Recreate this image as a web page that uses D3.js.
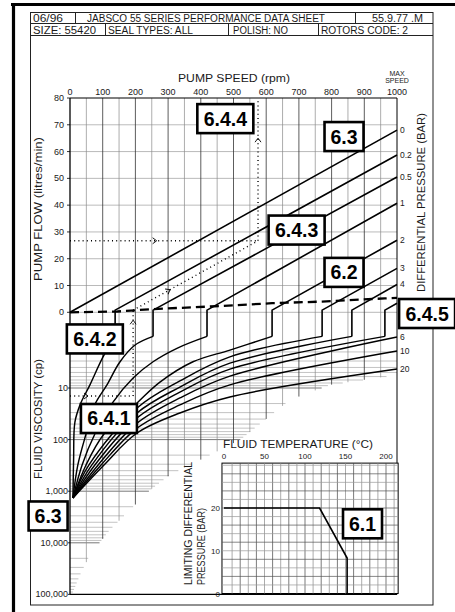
<!DOCTYPE html>
<html>
<head>
<meta charset="utf-8">
<script src="https://cdn.jsdelivr.net/npm/d3@7/dist/d3.min.js"></script>
<style>
  body { margin:0; background:#fff; }
  svg { display:block; }
  text { font-family:"Liberation Sans", Arial, sans-serif; fill:#1a1a1a; }
  .callout text { font-weight:bold; fill:#000; }
</style>
</head>
<body>
<svg id="svg" width="455" height="612"></svg>
<script>
// header cells
var headRow1 = ["06/96", "JABSCO 55 SERIES PERFORMANCE DATA SHEET", "55.9.77 .M"];
var headRow2 = ["SIZE: 55420", "SEAL TYPES: ALL", "POLISH: NO", "ROTORS CODE: 2"];

// axes
var speedTicks = [0,100,200,300,400,500,600,700,800,900,1000];
var speedGrid = [50,100,150,200,250,300,350,400,450,500,550,600,650,700,750,800,850,900,950];
var flowTicks = [0,10,20,30,40,50,60,70,80];
var viscTicks = [10,100,1000,10000,100000];
var viscLabels = ["10","100","1,000","10,000","100,000"];
var tempTicks = [0,50,100,150,200];
var limitTicks = [0,10,20];

// differential pressure lines: start speed, flow at max speed (1000 rpm)
var barLabels    = ["0","0.2","0.5","1","2","3","4",""];
var barStartRpm  = [0,138,254,419,618,771,862,963];
var barStartFlow = [0,0.8,0.8,0.8,0.8,0.8,0.8,0.8];
var barEndFlow   = [68,58.7,50.5,40.7,26.9,16.4,10.4,3.4];

// dashed slip line
var slipRpm  = [0,145,254,419,618,771,963,1000];
var slipFlow = [0,0.3,1.2,2.1,3.4,4.0,5.2,5.4];

// viscosity correction curves [rpm, cp]
var visc02 = [[138,1],[101,2.5],[61,8.7],[31,21],[15,46],[11,250],[9,1350]];
var visc05 = [[254,1],[199,1.47],[153,3.1],[113,8.7],[76,21],[49,78],[24,310],[9,1350]];
var visc1  = [[419,1],[327,1.7],[254,3.1],[193,6.4],[131,19],[76,78],[37,310],[9,1350]];
var visc2  = [[618,1],[489,1.84],[376,3.1],[275,7.7],[205,19.5],[104,78],[49,310],[9,1350]];
var visc3  = [[771,1],[489,2.5],[336,7.3],[205,24.4],[58,310],[9,1350]];
var visc4  = [[862,1],[489,3.3],[336,9.6],[205,30.5],[67,310],[9,1350]];
var visc5  = [[963,1],[489,4.3],[336,12],[205,38],[76,310],[9,1350]];
var visc6  = [[1000,1.03],[489,5.9],[336,15.6],[205,48],[86,310],[9,1350]];
var visc10 = [[1000,1.92],[489,8.7],[336,21.3],[205,60],[95,310],[9,1350]];
var visc20 = [[1000,4.3],[489,14.9],[336,30.5],[205,74.5],[104,310],[9,1350]];
var viscCurves = [visc02,visc05,visc1,visc2,visc3,visc4,visc5,visc6,visc10,visc20];
var viscOnlyLabels = ["6","10","20"];

// extent of the printed grid in the viscosity section
var gridEdgeRpm = [1000,795,673,520,398,306,245,199,122,61,31,6];
var gridEdgeCp  = [5.6,8.7,17,101,248,480,948,1840,5600,17100,41600,100000];

// worked example (dotted)
var exampleCp = 14.3, exampleRpmLow = 193, exampleFlow = 26.7, exampleRpmHigh = 575;

// limiting differential pressure vs temperature
var limitTemp = [0,118,152,152];
var limitBar  = [20,20,8.3,0];

// section reference boxes
var calloutText  = ["6.4.4","6.3","6.4.3","6.2","6.4.5","6.4.2","6.4.1","6.3","6.1"];
var calloutPanel = ["flow","flow","flow","flow","flow","visc","visc","visc","temp"];
var calloutX     = [475, 838, 693, 838, 1092, 76, 119, -67, 171];
var calloutY     = [72.3, 65.6, 30.7, 14.9, -0.45, 1.12, 39, 3020, 16.3];

var svg = d3.select("#svg");

var x  = d3.scaleLinear().domain([0,1000]).range([70,397]);
var yF = d3.scaleLinear().domain([0,80]).range([312.3,98]);
var yV = d3.scaleLog().domain([1,100000]).range([336.4,594.4]);
var xT = d3.scaleLinear().domain([0,200]).range([224,386]);
var yP = d3.scaleLinear().domain([0,20]).range([593.5,508]);

var edgeRpm = d3.scaleLog().domain(gridEdgeCp).range(gridEdgeRpm).clamp(true);
var edgeLogCp = d3.scaleLinear().domain(gridEdgeRpm.slice().reverse())
    .range(gridEdgeCp.map(Math.log10).reverse()).clamp(true);

function line(p, x1, y1, x2, y2, col, w, dash) {
  var l = p.append("line").attr("x1",x1).attr("y1",y1).attr("x2",x2).attr("y2",y2)
    .attr("stroke",col).attr("stroke-width",w);
  if (dash) l.attr("stroke-dasharray",dash);
  return l;
}
function label(p, x0, y0, s, size, anchor, len) {
  var t = p.append("text").attr("x",x0).attr("y",y0).attr("font-size",size)
    .attr("text-anchor",anchor||"start").text(s);
  if (len) t.attr("textLength",len).attr("lengthAdjust","spacingAndGlyphs");
  return t;
}

// ---------- frame & header ----------
var frame = svg.append("g");
frame.append("rect").attr("x",30.5).attr("y",12.5).attr("width",402.5).attr("height",592.5)
  .attr("fill","none").attr("stroke","#222").attr("stroke-width",1);
line(frame, 11, 4.5, 455, 4.5, "#000", 3.2);
line(frame, 13.5, 3, 13.5, 612, "#000", 3.2);
line(frame, 30, 23.5, 433, 23.5, "#222", 1);
line(frame, 30, 35.5, 433, 35.5, "#222", 1);
[75.5, 355.5].forEach(function(d){ line(frame, d, 12.5, d, 23.5, "#222", 1); });
[105.5, 228.5, 318.5].forEach(function(d){ line(frame, d, 23.5, d, 35.5, "#222", 1); });
var h1x = [33, 87, 372], h1w = [30, 238, 51];
headRow1.forEach(function(s,i){ label(frame, h1x[i], 21.5, s, 10, "start", h1w[i]); });
var h2x = [33, 108, 233, 321], h2w = [63, 85, 55, 87];
headRow2.forEach(function(s,i){ label(frame, h2x[i], 33.5, s, 10, "start", h2w[i]); });

// ---------- grid ----------
var grid = svg.append("g");
flowTicks.slice(1,-1).forEach(function(f){
  line(grid, x(0), yF(f), x(1000), yF(f), "#a8a8a8", 0.8);
});
line(grid, x(0), yF(0), x(1000), yF(0), "#999", 0.7);
// viscosity minor lines
[1,10,100,1000,10000].forEach(function(dec){
  for (var m = 1; m <= 9; m++) {
    var v = m*dec;
    if (v === 1) continue;
    line(grid, x(0), yV(v), x(edgeRpm(v)), yV(v), m === 1 ? "#555" : "#9a9a9a", m === 1 ? 0.8 : 0.6);
  }
});
speedGrid.forEach(function(r){
  var bottom = yV(Math.pow(10, edgeLogCp(r)));
  line(grid, x(r), yF(80), x(r), bottom, r % 100 === 0 ? "#333" : "#8a8a8a", r % 100 === 0 ? 0.8 : 0.7);
});

// ---------- axes ----------
var axes = svg.append("g");
line(axes, x(0), yF(80), x(1000), yF(80), "#000", 1.2);
line(axes, x(0), yF(80), x(0), yV(100000), "#000", 1.3);
line(axes, x(1000), yF(80), x(1000), yV(100000), "#000", 1);
line(axes, x(0), yV(100000), x(1000), yV(100000), "#000", 1.2);
speedTicks.forEach(function(r){
  label(axes, x(r), 95, String(r), 9, "middle");
});
flowTicks.forEach(function(f){
  label(axes, 64, yF(f)+3, String(f), 9, "end");
  line(axes, x(0)-3, yF(f), x(0), yF(f), "#000", 0.8);
});
viscTicks.forEach(function(v,i){
  label(axes, 68, yV(v)+3, viscLabels[i], 9, "end");
  line(axes, x(0)-2, yV(v), x(0), yV(v), "#000", 0.8);
});
label(axes, 397, 76, "MAX", 7, "middle");
label(axes, 397, 82.5, "SPEED", 7, "middle");
label(axes, 178, 81.5, "PUMP SPEED (rpm)", 11, "start", 112);
label(axes, 0, 0, "PUMP FLOW (litres/min)", 11, "start", 144)
  .attr("transform","translate(42,281) rotate(-90)");
label(axes, 0, 0, "FLUID VISCOSITY (cp)", 11, "start", 120)
  .attr("transform","translate(42,479) rotate(-90)");
label(axes, 0, 0, "DIFFERENTIAL PRESSURE (BAR)", 11, "start", 179)
  .attr("transform","translate(425,292) rotate(-90)");

// ---------- pressure lines ----------
var marks = svg.append("g");
var slip = d3.line().x(function(d){ return x(d[0]); }).y(function(d){ return yF(d[1]); });
marks.append("path").attr("d", slip(slipRpm.map(function(r,i){ return [r, slipFlow[i]]; })))
  .attr("fill","none").attr("stroke","#000").attr("stroke-width",2.3).attr("stroke-dasharray","9,5");

barStartRpm.forEach(function(r,i){
  var pts = [[x(1000), yF(barEndFlow[i])], [x(r), yF(barStartFlow[i])]];
  if (i > 0) pts.push([x(r), yV(1)]);
  marks.append("path").attr("d", d3.line()(pts))
    .attr("fill","none").attr("stroke","#000").attr("stroke-width",1.6);
  if (barLabels[i]) label(marks, 400, yF(barEndFlow[i])+3, barLabels[i], 8.5, "start");
});

var viscLine = d3.line().x(function(d){ return x(d[0]); }).y(function(d){ return yV(d[1]); })
  .curve(d3.curveCatmullRom.alpha(0.5));
viscCurves.forEach(function(c){
  marks.append("path").attr("d", viscLine(c))
    .attr("fill","none").attr("stroke","#000").attr("stroke-width",1.45);
});
[visc6, visc10, visc20].forEach(function(c,i){
  label(marks, 400, yV(c[0][1])+3, viscOnlyLabels[i], 8.5, "start");
});

// ---------- worked example ----------
var ex = svg.append("g");
var dots = "1,3.2";
line(ex, x(0), yV(exampleCp), x(exampleRpmLow), yV(exampleCp), "#000", 1.4, dots);
line(ex, x(exampleRpmLow), yV(exampleCp), x(exampleRpmLow), yF(0.8), "#000", 1.4, dots);
line(ex, x(exampleRpmLow), yF(0.8), x(exampleRpmHigh), yF(exampleFlow), "#000", 1.4, dots);
line(ex, x(exampleRpmHigh), yF(exampleFlow), x(exampleRpmHigh), yF(80), "#000", 1.4, dots);
line(ex, x(0), yF(exampleFlow), x(exampleRpmHigh), yF(exampleFlow), "#000", 1.4, dots);
function arrow(px, py, ang) {
  ex.append("path").attr("d","M-4,-3L0,0L-4,3")
    .attr("transform","translate("+px+","+py+") rotate("+ang+")")
    .attr("fill","none").attr("stroke","#000").attr("stroke-width",0.9);
}
arrow(x(55), yV(exampleCp), 0);
arrow(x(exampleRpmLow), (yV(1)+yF(0.8))/2 - 3, -90);
var dAng = Math.atan2(yF(exampleFlow)-yF(0.8), x(exampleRpmHigh)-x(exampleRpmLow))*180/Math.PI;
arrow(x(306), yF(0.8 + (exampleFlow-0.8)*(306-exampleRpmLow)/(exampleRpmHigh-exampleRpmLow)), dAng);
arrow(x(exampleRpmHigh), yF(65), -90);
arrow(x(265), yF(exampleFlow), 0);

// ---------- temperature panel ----------
var tp = svg.append("g");
var tx0 = xT(-2.5), tx1 = xT(215), ty0 = yP(30.5), ty1 = yP(0);
tp.append("rect").attr("x",tx0).attr("y",ty0).attr("width",tx1-tx0).attr("height",ty1-ty0)
  .attr("fill","#fff").attr("stroke","#000").attr("stroke-width",1);
for (var t = 10; t <= 210; t += 10)
  line(tp, xT(t), ty0, xT(t), ty1, t % 20 === 0 ? "#444" : "#888", 0.7);
for (var b = 2; b <= 30; b += 2)
  line(tp, tx0, yP(b), tx1, yP(b), b % 4 === 0 ? "#555" : "#999", 0.7);
tp.append("path")
  .attr("d", d3.line()(limitTemp.map(function(t,i){ return [xT(t), yP(limitBar[i])]; })))
  .attr("fill","none").attr("stroke","#000").attr("stroke-width",1.6);
tempTicks.forEach(function(t){ label(tp, xT(t), 459, String(t), 8, "middle"); });
limitTicks.forEach(function(b){ label(tp, 220, yP(b)+3, String(b), 8, "end"); });
label(tp, 223, 448, "FLUID TEMPERATURE (\u00b0C)", 11, "start", 150);
label(tp, 0, 0, "LIMITING DIFFERENTIAL", 11, "start", 123)
  .attr("transform","translate(192,585) rotate(-90)");
label(tp, 0, 0, "PRESSURE (BAR)", 11, "start", 77)
  .attr("transform","translate(205,585) rotate(-90)");

// ---------- reference boxes ----------
var cg = svg.append("g").attr("class","callout");
calloutText.forEach(function(s,i){
  var cx, cy;
  if (calloutPanel[i] === "flow") { cx = x(calloutX[i]); cy = yF(calloutY[i]); }
  else if (calloutPanel[i] === "visc") { cx = x(calloutX[i]); cy = yV(calloutY[i]); }
  else { cx = xT(calloutX[i]); cy = yP(calloutY[i]); }
  var w = s.length > 3 ? 56 : 39, h = 29;
  cg.append("rect").attr("x",cx-w/2).attr("y",cy-h/2).attr("width",w).attr("height",h)
    .attr("fill","#fff").attr("stroke","#000").attr("stroke-width",2.6);
  cg.append("text").attr("x",cx).attr("y",cy+7).attr("text-anchor","middle")
    .attr("font-size",19.5).text(s);
});
</script>
</body>
</html>
